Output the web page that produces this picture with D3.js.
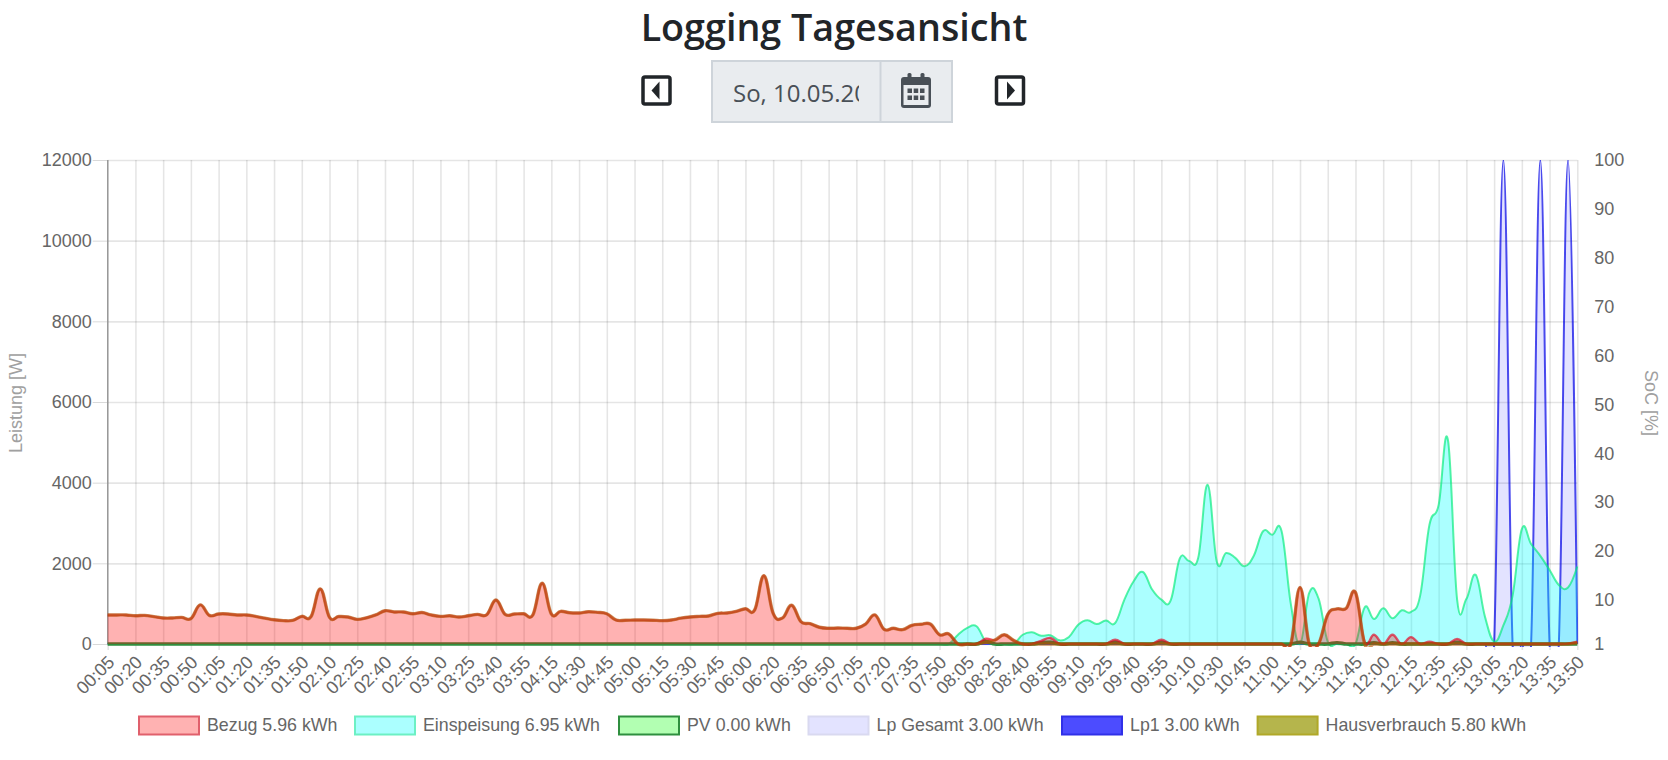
<!DOCTYPE html>
<html>
<head>
<meta charset="utf-8">
<style>
body { margin: 0; background: #fff; }
svg { display: block; font-family: "Liberation Sans", Arial, sans-serif; }
.title { font-family: "Open Sans", sans-serif; font-size: 37.7px; font-weight: 600; fill: #212529; text-anchor: middle; }
.tick text { fill: #666; font-size: 18px; }
.axisTitle { fill: #a0a0a0; font-size: 18px; text-anchor: middle; }
.legendText { fill: #666; font-size: 17.8px; }
.grid line { stroke: #000; stroke-opacity: 0.1; stroke-width: 1.6; }
.grid path { display: none; }
.domain { display: none; }
</style>
</head>
<body>
<svg width="1668" height="760"></svg>
<script src="https://d3js.org/d3.v7.min.js"></script>
<script>
const timeLabels = [
  "00:05","00:20","00:35","00:50","01:05","01:20","01:35","01:50","02:10","02:25",
  "02:40","02:55","03:10","03:25","03:40","03:55","04:15","04:30","04:45","05:00",
  "05:15","05:30","05:45","06:00","06:20","06:35","06:50","07:05","07:20","07:35",
  "07:50","08:05","08:25","08:40","08:55","09:10","09:25","09:40","09:55","10:10",
  "10:30","10:45","11:00","11:15","11:30","11:45","12:00","12:15","12:35","12:50",
  "13:05","13:20","13:35","13:50"
];
const powerTicks = [0, 2000, 4000, 6000, 8000, 10000, 12000];
const socTicks = [1, 10, 20, 30, 40, 50, 60, 70, 80, 90, 100];

const bezug = [
  720,720,720,700,710,680,645,645,660,630,
  970,710,745,745,720,720,685,640,600,580,
  585,685,680,1365,660,680,670,610,650,720,
  825,795,795,750,780,720,685,700,670,700,
  735,725,1090,735,745,750,725,1505,745,810,
  775,770,800,785,750,595,590,595,595,590,
  580,595,640,670,685,695,760,770,810,875,
  845,1695,760,645,960,555,505,415,390,395,
  390,390,495,720,365,390,355,463,490,495,
  230,250,0,0,0,130,100,230,90,0,
  0,80,150,0,0,0,0,0,0,105,
  0,0,0,0,105,0,0,0,0,0,
  0,0,0,0,0,0,0,0,0,1405,
  0,0,730,870,885,1280,50,230,0,230,
  0,170,0,60,0,0,125,0,0,0,
  0,0,0,0,0,0,0,0,10,60
];
const einspeisung = [
  0,0,0,0,0,0,0,0,0,0,
  0,0,0,0,0,0,0,0,0,0,
  0,0,0,0,0,0,0,0,0,0,
  0,0,0,0,0,0,0,0,0,0,
  0,0,0,0,0,0,0,0,0,0,
  0,0,0,0,0,0,0,0,0,0,
  0,0,0,0,0,0,0,0,0,0,
  0,0,0,0,0,0,0,0,0,0,
  0,0,0,0,0,0,0,0,0,0,
  0,0,230,400,440,65,0,0,0,230,
  290,205,215,90,175,480,590,495,580,520,
  1100,1555,1785,1350,1100,1075,2125,2060,2150,3950,
  2040,2255,2135,1925,2190,2795,2710,2800,1000,0,
  1270,1130,60,0,0,0,910,620,885,640,
  835,795,1200,2950,3450,5065,1095,1120,1715,685,
  60,460,1200,2850,2480,2185,1835,1465,1400,1920
];
const pv = [
  0,0,0,0,0,0,0,0,0,0,0,0,0,0,0,0,0,0,0,0,
  0,0,0,0,0,0,0,0,0,0,0,0,0,0,0,0,0,0,0,0,
  0,0,0,0,0,0,0,0,0,0,0,0,0,0,0,0,0,0,0,0,
  0,0,0,0,0,0,0,0,0,0,0,0,0,0,0,0,0,0,0,0,
  0,0,0,0,0,0,0,0,0,0,0,0,0,0,0,60,0,0,0,0,
  0,30,40,0,0,0,0,0,0,40,0,0,0,0,40,0,0,0,0,0,
  0,0,0,0,0,0,0,0,0,40,0,0,0,30,0,0,0,30,0,30,
  0,0,0,0,0,0,40,0,0,0,0,0,0,0,0,0,0,0,0,0
];
const lpGesamt = [
  0,0,0,0,0,0,0,0,0,0,0,0,0,0,0,0,0,0,0,0,
  0,0,0,0,0,0,0,0,0,0,0,0,0,0,0,0,0,0,0,0,
  0,0,0,0,0,0,0,0,0,0,0,0,0,0,0,0,0,0,0,0,
  0,0,0,0,0,0,0,0,0,0,0,0,0,0,0,0,0,0,0,0,
  0,0,0,0,0,0,0,0,0,0,0,0,0,0,0,0,0,0,0,0,
  0,0,0,0,0,0,0,0,0,0,0,0,0,0,0,0,0,0,0,0,
  0,0,0,0,0,0,0,0,0,0,0,0,0,0,0,0,0,0,0,0,
  0,0,0,0,0,0,0,0,0,0,0,12000,0,0,0,12000,0,0,12000,0
];
const lp1 = [
  0,0,0,0,0,0,0,0,0,0,0,0,0,0,0,0,0,0,0,0,
  0,0,0,0,0,0,0,0,0,0,0,0,0,0,0,0,0,0,0,0,
  0,0,0,0,0,0,0,0,0,0,0,0,0,0,0,0,0,0,0,0,
  0,0,0,0,0,0,0,0,0,0,0,0,0,0,0,0,0,0,0,0,
  0,0,0,0,0,0,0,0,0,0,0,0,0,0,0,0,0,0,0,0,
  0,0,0,0,0,0,0,0,0,0,0,0,0,0,0,0,0,0,0,0,
  0,0,0,0,0,0,0,0,0,0,0,0,0,0,0,0,0,0,0,0,
  0,0,0,0,0,0,0,0,0,0,0,12000,0,0,0,12000,0,0,12000,0
];
const hausverbrauch = [
  720,720,720,700,710,680,645,645,660,630,
  970,710,745,745,720,720,685,640,600,580,
  585,685,680,1365,660,680,670,610,650,720,
  825,795,795,750,780,720,685,700,670,700,
  735,725,1090,735,745,750,725,1505,745,810,
  775,770,800,785,750,595,590,595,595,590,
  580,595,640,670,685,695,760,770,810,875,
  845,1695,760,645,960,555,505,415,390,395,
  390,390,495,720,365,390,355,463,490,495,
  230,250,0,0,0,40,100,230,90,0,
  0,0,0,0,0,0,0,0,0,0,
  0,0,0,0,0,0,0,0,0,0,
  0,0,0,0,0,0,0,0,0,1405,
  0,0,730,870,885,1280,0,0,0,0,
  0,0,0,0,0,0,0,0,0,0,
  0,0,0,0,0,0,0,0,0,30
];

const legendNames = ["Bezug 5.96 kWh", "Einspeisung 6.95 kWh", "PV 0.00 kWh", "Lp Gesamt 3.00 kWh", "Lp1 3.00 kWh", "Hausverbrauch 5.80 kWh"];
const legendFills = ["rgba(255,0,0,0.3)", "rgba(0,255,255,0.33)", "rgba(0,255,0,0.3)", "rgba(0,0,255,0.11)", "rgba(0,0,255,0.7)", "rgba(150,150,0,0.7)"];
const legendBorders = ["#e0606c", "#6cf0c4", "#2f8f3f", "#d9d9f0", "#3030e8", "#b0a828"];
const legendX = [139, 355, 619, 808.5, 1062, 1257.6];

const svg = d3.select("svg");
const plotLeft = 107.7, plotRight = 1577.3, plotTop = 160, plotBottom = 644;

const x = d3.scalePoint().domain(d3.range(bezug.length)).range([plotLeft, plotRight]);
const y = d3.scaleLinear().domain([0, 12000]).range([plotBottom, plotTop]);
const ySoc = d3.scaleLinear().domain([1, 100]).range([plotBottom, plotTop]);

svg.append("text").attr("class", "title").attr("x", 834).attr("y", 41).text("Logging Tagesansicht");

// date navigation
function caretButton(cx, dir) {
  svg.append("rect").attr("x", cx - 13.5).attr("y", 77).attr("width", 27).attr("height", 27).attr("rx", 2)
    .attr("fill", "none").attr("stroke", "#212529").attr("stroke-width", 3.5);
  const d = dir < 0 ? `M${cx + 3},81.5 L${cx - 5},90.5 L${cx + 3},99.5Z` : `M${cx - 3},81.5 L${cx + 5},90.5 L${cx - 3},99.5Z`;
  svg.append("path").attr("d", d).attr("fill", "#212529");
}
caretButton(656.5, -1);
caretButton(1010, 1);

svg.append("rect").attr("x", 712).attr("y", 61).attr("width", 240).attr("height", 61)
  .attr("fill", "#e9ecef").attr("stroke", "#ced4da").attr("stroke-width", 2);
svg.append("line").attr("x1", 880.5).attr("x2", 880.5).attr("y1", 61).attr("y2", 122).attr("stroke", "#ced4da").attr("stroke-width", 2);
svg.append("clipPath").attr("id", "dateClip").append("rect").attr("x", 713).attr("y", 62).attr("width", 146).attr("height", 58);
svg.append("text").attr("x", 733).attr("y", 102).attr("clip-path", "url(#dateClip)")
  .attr("fill", "#495057").attr("font-family", "Open Sans, sans-serif").attr("font-size", 24).text("So, 10.05.2020");

const icon = svg.append("g").attr("transform", "translate(901,73)").attr("fill", "#495057");
icon.append("rect").attr("x", 0).attr("y", 4).attr("width", 30).attr("height", 31).attr("rx", 3);
icon.append("rect").attr("x", 6.5).attr("y", 0).attr("width", 4).attr("height", 8).attr("rx", 1.5);
icon.append("rect").attr("x", 19.5).attr("y", 0).attr("width", 4).attr("height", 8).attr("rx", 1.5);
icon.append("rect").attr("x", 2.5).attr("y", 12).attr("width", 25).attr("height", 20).attr("fill", "#e9ecef");
[6.5, 12.7, 19].forEach(cx => [15.5, 22.5].forEach(cy => {
  icon.append("rect").attr("x", cx).attr("y", cy).attr("width", 4.5).attr("height", 4.5);
}));

// axes and grid
svg.append("g").attr("class", "grid").attr("transform", `translate(0,${plotBottom})`)
  .call(d3.axisBottom(x)
    .tickValues(d3.range(0, bezug.length, 3))
    .tickSize(-(plotBottom - plotTop))
    .tickFormat(""));
svg.append("g").attr("class", "grid").attr("transform", `translate(${plotLeft},0)`)
  .call(d3.axisLeft(y).tickValues(powerTicks).tickSize(-(plotRight - plotLeft)).tickFormat(""));

const xAxis = svg.append("g").attr("transform", `translate(0,${plotBottom})`)
  .call(d3.axisBottom(x)
    .tickValues(d3.range(0, bezug.length, 3))
    .tickSize(6)
    .tickFormat(i => timeLabels[i / 3]));
xAxis.selectAll("line").attr("stroke", "#000").attr("stroke-opacity", 0.1).attr("stroke-width", 1.6);
xAxis.selectAll("text")
  .attr("text-anchor", "end")
  .attr("x", 0).attr("y", 0).attr("dy", "0.35em")
  .attr("transform", "translate(3,15) rotate(-45)");

const yAxis = svg.append("g").attr("transform", `translate(${plotLeft},0)`)
  .call(d3.axisLeft(y).tickValues(powerTicks).tickSize(15).tickPadding(1).tickFormat(d3.format("d")));
yAxis.selectAll("line").attr("stroke", "#000").attr("stroke-opacity", 0.15);

const socAxis = svg.append("g").attr("transform", `translate(${plotRight},0)`)
  .call(d3.axisRight(ySoc).tickValues(socTicks).tickSize(0).tickPadding(17));

svg.append("line").attr("x1", plotLeft).attr("x2", plotLeft).attr("y1", plotTop).attr("y2", plotBottom)
  .attr("stroke", "#999").attr("stroke-width", 1.4);

svg.append("text").attr("class", "axisTitle").attr("transform", "translate(22,403) rotate(-90)").text("Leistung [W]");
svg.append("text").attr("class", "axisTitle").attr("transform", "translate(1645,403) rotate(90)").text("SoC [%]");

// series, back to front
const curve = d3.curveCardinal.tension(-0.2);
const line = d3.line().x((d, i) => x(i)).y(d => y(d)).curve(curve);
const area = d3.area().x((d, i) => x(i)).y0(y(0)).y1(d => y(d)).curve(curve);

svg.append("clipPath").attr("id", "plotClip").append("rect")
  .attr("x", plotLeft - 1).attr("y", plotTop).attr("width", plotRight - plotLeft + 2).attr("height", plotBottom - plotTop + 3);
const plot = svg.append("g").attr("clip-path", "url(#plotClip)");

plot.append("path").attr("d", area(lpGesamt)).attr("fill", "rgba(0,0,255,0.11)");
plot.append("path").attr("d", line(lp1)).attr("fill", "none").attr("stroke", "rgba(0,0,230,0.7)").attr("stroke-width", 2);

plot.append("path").attr("d", area(einspeisung)).attr("fill", "rgba(0,255,255,0.33)");
plot.append("path").attr("d", line(einspeisung)).attr("fill", "none").attr("stroke", "rgba(0,235,120,0.65)").attr("stroke-width", 2);

plot.append("path").attr("d", area(pv)).attr("fill", "rgba(0,255,0,0.3)");
plot.append("path").attr("d", line(pv)).attr("fill", "none").attr("stroke", "#2f8f3f").attr("stroke-width", 3.6);

plot.append("path").attr("d", area(bezug)).attr("fill", "rgba(255,0,0,0.3)");
plot.append("path").attr("d", line(bezug)).attr("fill", "none").attr("stroke", "rgba(230,0,30,0.65)").attr("stroke-width", 2.4);
plot.append("path").attr("d", line(hausverbrauch)).attr("fill", "none").attr("stroke", "rgba(175,85,0,0.62)").attr("stroke-width", 3.4);

// legend
legendNames.forEach((name, i) => {
  svg.append("rect").attr("x", legendX[i]).attr("y", 716.5).attr("width", 60).attr("height", 18)
    .attr("fill", legendFills[i]).attr("stroke", legendBorders[i]).attr("stroke-width", 2);
  svg.append("text").attr("class", "legendText").attr("x", legendX[i] + 68).attr("y", 731).text(name);
});
</script>
</body>
</html>
